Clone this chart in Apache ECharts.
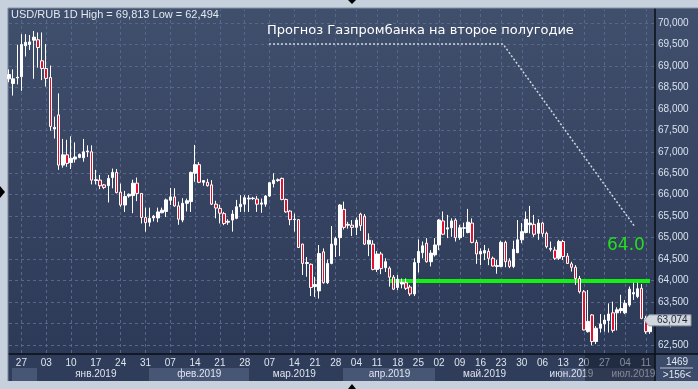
<!DOCTYPE html>
<html><head><meta charset="utf-8">
<script src="https://cdn.jsdelivr.net/npm/echarts@6/dist/echarts.min.js"></script>
<style>html,body{margin:0;padding:0;background:#c6d1dd;overflow:hidden;}#c{width:698px;height:389px;}</style>
</head><body><div id="c"></div>
<script>
// ---- Data (USD/RUB daily candles, 156 bars) ----
const openP = [68.70,68.59,68.72,68.75,69.47,69.50,69.60,69.61,69.12,68.94,
68.73,67.53,67.86,66.69,66.93,66.75,66.83,66.87,66.86,67.00,
67.00,66.33,66.34,66.23,66.21,66.40,66.52,66.06,65.76,65.97,
65.98,66.27,66.03,65.47,65.36,65.46,65.46,65.58,65.61,65.87,
65.95,65.74,65.41,65.80,65.84,66.50,66.70,66.29,66.29,66.23,
65.78,65.68,65.56,65.36,65.41,65.45,65.72,65.78,65.90,65.91,
65.90,65.78,65.78,65.97,66.26,66.33,66.38,65.89,65.62,65.42,
65.42,64.85,64.40,64.38,63.86,63.76,64.67,63.95,64.40,64.83,
65.00,65.66,65.29,65.29,65.24,65.55,65.50,64.85,64.85,64.26,
64.62,64.30,64.29,64.08,63.84,63.92,63.95,63.85,63.69,64.42,
64.65,64.87,64.44,64.60,64.83,65.39,65.20,65.23,65.41,65.00,
65.22,65.12,65.34,64.89,64.62,64.64,64.68,64.52,64.33,64.33,
64.89,64.46,64.33,64.65,64.95,65.12,65.30,65.31,65.10,65.34,
65.10,64.73,64.71,64.52,64.91,64.57,64.39,64.31,64.05,63.74,
62.81,63.20,62.58,62.89,62.99,63.07,63.25,63.25,63.30,63.25,
63.43,63.69,63.63,63.82,63.12,62.81];
const closeP = [68.80,68.70,68.74,69.50,69.55,69.56,69.67,69.43,68.94,68.71,
67.59,67.57,66.69,66.93,66.73,66.85,66.88,66.94,67.00,67.02,
66.34,66.35,66.21,66.17,66.38,66.52,66.05,65.76,65.96,66.01,
66.27,66.03,65.47,65.35,65.45,65.50,65.60,65.64,65.88,65.95,
65.74,65.43,65.80,65.86,66.52,66.70,66.29,66.33,66.21,65.78,
65.69,65.57,65.33,65.38,65.55,65.72,65.78,65.93,65.92,65.92,
65.78,65.81,65.97,66.28,66.34,66.35,65.89,65.60,65.42,65.43,
64.77,64.40,64.42,63.84,63.91,64.63,63.95,64.40,64.85,64.98,
65.76,65.24,65.31,65.24,65.41,65.28,64.85,64.94,64.26,64.62,
64.28,64.44,64.08,63.80,64.03,63.96,63.82,63.69,64.42,64.68,
64.81,64.44,64.64,64.83,65.41,65.08,65.23,65.39,65.00,65.23,
65.23,65.36,64.89,64.62,64.68,64.70,64.52,64.34,64.35,64.89,
64.44,64.33,64.73,64.95,65.14,65.43,65.34,65.08,65.34,65.10,
64.79,64.75,64.52,64.91,64.56,64.40,64.31,64.05,63.74,62.85,
63.05,62.58,62.89,62.99,63.08,63.22,62.84,63.32,63.35,63.47,
63.80,63.72,63.81,63.12,62.81,63.074];
const lowP = [68.62,68.31,68.57,68.42,69.22,69.37,68.70,68.96,68.67,68.52,
67.49,67.31,66.58,66.63,66.65,66.60,66.75,66.85,66.77,66.88,
66.24,66.24,66.13,66.13,65.82,66.15,66.03,65.72,65.60,65.93,
65.57,65.85,65.33,65.14,65.26,65.38,65.36,65.57,65.48,65.76,
65.72,65.30,65.36,65.61,65.60,66.30,66.27,66.21,66.19,65.76,
65.45,65.33,65.29,65.30,65.14,65.43,65.60,65.60,65.60,65.88,
65.60,65.58,65.72,65.95,66.17,66.30,65.87,65.58,65.29,65.14,
64.76,64.13,64.09,63.64,63.62,63.58,63.93,63.92,64.38,64.55,
64.57,65.19,65.21,65.04,65.06,65.16,64.83,64.57,64.24,64.20,
64.15,64.20,63.86,63.78,63.78,63.82,63.78,63.64,63.64,64.19,
64.52,64.42,64.33,64.56,64.71,65.06,64.99,65.02,64.91,64.95,
65.02,65.10,64.87,64.39,64.36,64.48,64.36,64.33,64.16,64.31,
64.31,64.29,64.29,64.64,64.87,65.10,65.10,65.02,64.95,65.02,
64.75,64.68,64.48,64.48,64.48,64.39,64.21,63.90,63.70,62.84,
62.79,62.494,62.52,62.79,62.81,62.79,62.79,62.84,63.24,63.22,
63.39,63.55,63.59,63.10,62.76,62.76];
const highP = [68.92,68.92,69.49,69.74,69.74,69.72,69.813,69.78,69.78,69.51,
69.01,67.82,68.36,67.30,67.28,67.36,67.22,66.96,67.30,67.15,
67.15,66.58,66.46,66.25,66.46,66.61,66.60,66.26,66.09,66.03,
66.35,66.40,66.03,65.70,65.70,65.53,65.70,65.70,65.91,66.16,
66.15,65.84,65.92,65.91,66.54,67.16,66.76,66.34,66.37,66.34,
65.86,65.77,65.60,65.43,65.64,65.88,65.99,65.99,65.99,65.95,
65.97,65.91,65.99,66.30,66.50,66.38,66.40,65.91,65.64,65.56,
65.43,64.86,64.55,64.40,64.09,64.83,64.75,64.49,65.27,65.02,
65.78,65.84,65.37,65.41,65.47,65.58,65.55,65.10,64.94,64.69,
64.67,64.52,64.33,64.13,64.13,64.05,64.05,63.90,64.52,64.96,
64.91,64.99,64.71,64.99,65.43,65.61,65.53,65.45,65.45,65.30,
65.35,65.67,65.45,64.95,64.75,64.83,64.75,64.56,64.48,64.93,
64.93,64.52,64.93,65.41,65.34,65.61,65.74,65.53,65.43,65.37,
65.14,64.91,64.79,64.95,64.95,64.64,64.44,64.36,64.11,63.78,
63.78,63.22,62.94,63.22,63.20,63.47,63.51,63.38,63.67,63.55,
63.86,63.95,63.95,63.92,63.18,63.14];

const dayLabelIdx = [3,9,15,21,27,33,39,45,51,57,63,69,74,79,84,89,94,99,104,109,114,119,124,129,134,139,144,149,154];
const dayLabels   = ['27','03','10','17','24','31','07','14','21','28','07','14','21','28','04','11','18','25','02','09','16','23','30','06','13','20','27','04','11'];
const monthLabelIdx = [21,46,69,92,115,136,151];
const monthLabels   = ['янв.2019','фев.2019','мар.2019','апр.2019','май.2019','июн.2019','июл.2019'];

const targetLevel = 64.0;      // Gazprombank forecast
const targetFromIdx = 92;
const targetText = '64.0';
const forecastTitle = 'Прогноз Газпромбанка на второе полугодие';
const barsShown = '>156<';
const barsTotal = '1469';

// ---- build ----
const categories = openP.map((_, i) => String(i));
const candles = openP.map((o, i) => [o, closeP[i], lowP[i], highP[i]]);
const hi = Math.max(...highP), lo = Math.min(...lowP);
const fmt = v => v.toFixed(3).replace('.', ',');
const lastClose = closeP[closeP.length - 1];
const dayMap = {}; dayLabelIdx.forEach((k, j) => dayMap[k] = dayLabels[j]);
const monMap = {}; monthLabelIdx.forEach((k, j) => monMap[k] = monthLabels[j]);

const FONT = 'Liberation Sans';
const chart = echarts.init(document.getElementById('c'), null, {renderer: 'canvas', width: 698, height: 389});

const bgGraphics = [
  {type:'rect', z:-100, shape:{x:8,y:8,width:690,height:346},
   style:{fill:new echarts.graphic.LinearGradient(0,0,0,1,[{offset:0,color:'#404f6c'},{offset:1,color:'#2d3a57'}])}},
  {type:'rect', z:-100, shape:{x:8,y:354,width:647,height:27}, style:{fill:'#2f3c5a'}},
  // month bands
  {type:'rect', z:-99, shape:{x:12,y:368,width:25,height:13}, style:{fill:'#475675'}},
  {type:'rect', z:-99, shape:{x:149,y:368,width:100,height:13}, style:{fill:'#475675'}},
  {type:'rect', z:-99, shape:{x:343,y:368,width:92,height:13}, style:{fill:'#475675'}},
  {type:'rect', z:-99, shape:{x:560,y:368,width:95,height:13}, style:{fill:'#475675'}},
  {type:'rect', z:-99, shape:{x:655,y:354,width:43,height:27}, style:{fill:'#3c4b69'}},
  {type:'line', z:-98, shape:{x1:8,y1:354,x2:698,y2:354}, style:{stroke:'#0a0e16',lineWidth:1.5}},
  {type:'line', z:-98, shape:{x1:655,y1:8,x2:655,y2:381}, style:{stroke:'#0a0e16',lineWidth:1.5}},
  {type:'line', z:-98, shape:{x1:8,y1:8,x2:8,y2:381}, style:{stroke:'#7b8799',lineWidth:1}},
  {type:'line', z:-98, shape:{x1:8,y1:8,x2:698,y2:8}, style:{stroke:'#8592a3',lineWidth:1}},
  {type:'line', z:-98, shape:{x1:660,y1:368,x2:693,y2:368}, style:{stroke:'#b9c3d0',lineWidth:1}},
  {type:'text', z:50, style:{x:677,y:362,text:barsTotal,fill:'#e2e8f0',font:'10px '+FONT,align:'center',verticalAlign:'middle'}},
  {type:'text', z:50, style:{x:677,y:375,text:barsShown,fill:'#e2e8f0',font:'10px '+FONT,align:'center',verticalAlign:'middle'}},
  {type:'rect', z:60, shape:{x:585,y:355,width:70,height:26}, style:{fill:'rgba(18,24,40,0.45)'}},
  // frame markers
  {type:'polygon', z:50, shape:{points:[[0,186],[5,192],[0,198]]}, style:{fill:'#000'}},
  {type:'polygon', z:50, shape:{points:[[348,389],[352,384],[356,389]]}, style:{fill:'#000'}},
  {type:'polygon', z:50, shape:{points:[[348,0],[352,4],[356,0]]}, style:{fill:'#000'}},
  // header
  {type:'text', z:50, style:{x:11,y:15,text:'USD/RUB 1D High = '+fmt(hi)+' Low = '+fmt(lo),fill:'#e2e8f0',font:'11px '+FONT,verticalAlign:'middle'}},
  // forecast annotation
  {type:'text', z:50, style:{x:267,y:31,text:forecastTitle,fill:'#ffffff',font:'13px DejaVu Sans',verticalAlign:'middle'}},
  {type:'polyline', z:50, shape:{points:[[269,44],[503,44],[635,227]]}, style:{stroke:'#cfd6e0',lineWidth:1.5,lineDash:[2,2]}},
  {type:'text', z:50, style:{x:607,y:246,text:targetText,fill:'#22e01c',font:'17px DejaVu Sans',verticalAlign:'middle'}}
];

const option = {
  animation: false,
  backgroundColor: 'transparent',
  grid: [
    {left: 9, right: 48, top: 8, bottom: 35, outerBoundsMode: 'none'},
    {left: 9, right: 43, top: 23, bottom: 44, outerBoundsMode: 'none'}
  ],
  xAxis: [
    {type:'category', gridIndex:0, data:categories, boundaryGap:false,
     axisLine:{show:false}, axisTick:{show:false},
     axisLabel:{interval:(i)=>dayMap[i]!==undefined, formatter:(v,i)=>dayMap[i]||'',
       color:'#dfe5ee', fontSize:10, fontFamily:FONT, margin:4},
     splitLine:{show:true, interval:(i)=>dayMap[i]!==undefined,
       lineStyle:{color:'#56678a', type:[3,3], width:1}}},
    {type:'value', gridIndex:1, show:false, min:0, max:1},
    {type:'category', gridIndex:0, data:categories, boundaryGap:false, position:'bottom', offset:11,
     axisLine:{show:false}, axisTick:{show:false}, splitLine:{show:false},
     axisLabel:{interval:(i)=>monMap[i]!==undefined, formatter:(v,i)=>monMap[i]||'',
       color:'#dfe5ee', fontSize:10, fontFamily:FONT, margin:4}}
  ],
  yAxis: [
    {type:'value', gridIndex:0, min:62.2904, max:70.3494, show:false},
    {type:'value', gridIndex:1, min:62.5, max:70, interval:0.5, position:'right',
     axisLine:{show:false}, axisTick:{show:false},
     axisLabel:{formatter:fmt, color:'#d8e2ef', fontSize:10, fontFamily:FONT, margin:3},
     splitLine:{show:true, lineStyle:{color:'#56678a', type:[3,3], width:1}}}
  ],
  series: [{
    type:'candlestick', xAxisIndex:0, yAxisIndex:0, data:candles,
    barWidth:3, clip:false, z:5,
    itemStyle:{color:'#ffffff', color0:'#e3102e', borderColor:'#ffffff', borderColor0:'#ffffff', borderWidth:1},
    markLine:{silent:true, symbol:['none','none'], label:{show:false},
      lineStyle:{color:'#14f014', width:4, type:'solid'},
      data:[[{coord:[targetFromIdx, targetLevel]},{coord:[categories.length-1, targetLevel]}]]}
  }],
  graphic: bgGraphics
};
chart.setOption(option);

// last price tag positioned through the price scale
const yLast = chart.convertToPixel({yAxisIndex:0}, lastClose);
bgGraphics.push(
  {type:'polygon', z:70, shape:{points:[[644,yLast],[649,yLast-5.5],[691,yLast-5.5],[691,yLast+5.5],[649,yLast+5.5]]},
   style:{fill:'#d2d6dd', stroke:'#8c96a6', lineWidth:1}},
  {type:'text', z:71, style:{x:657,y:yLast,text:fmt(lastClose),fill:'#1c2840',font:'10px '+FONT,verticalAlign:'middle'}}
);
chart.setOption({graphic: bgGraphics}, {replaceMerge:['graphic']});
</script>
</body></html>
